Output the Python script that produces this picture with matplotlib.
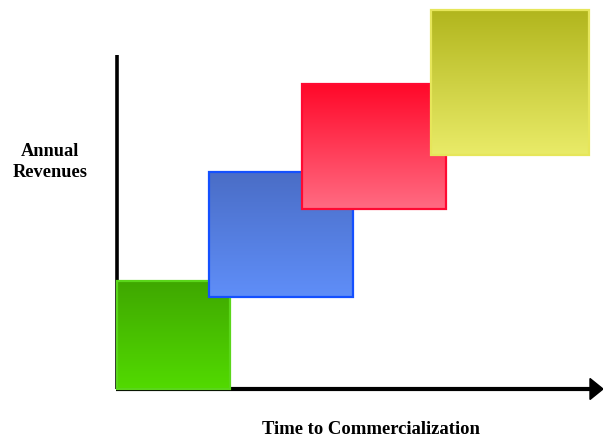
import numpy as np
import matplotlib.pyplot as plt
from matplotlib.patches import Rectangle, Polygon
from matplotlib.colors import to_rgb

# stage blocks: start time, width, revenue floor, height
stages = ['seed', 'early', 'growth', 'mature']
start = [0, 92, 185, 314]
width = [113, 144, 144, 158]
floor = [-1, 91, 179, 233]
height = [108, 125, 125, 145]
top_col = ['#3fa700', '#4a6dc6', '#ff0829', '#b2b61e']
bot_col = ['#52da00', '#5f8ef8', '#ff6b82', '#e9eb68']
edge_col = ['#5ad61a', '#1450ff', '#ff0a32', '#e6e65a']

fig = plt.figure(figsize=(6.03, 4.36), dpi=100)
ax = fig.add_axes([0, 0, 1, 1])
ax.axis('off')

# axes with arrow
ax.plot([0, 0], [-1, 333], color='black', lw=2.6, solid_capstyle='butt', zorder=1)
ax.plot([-1, 474], [-1, -1], color='black', lw=3, solid_capstyle='butt', zorder=1)
ax.add_patch(Polygon([[473, 9.5], [486, -1], [473, -11.5]], closed=True,
                     color='black', zorder=1))

for i in range(len(stages)):
    x0, x1 = start[i], start[i] + width[i]
    y0, y1 = floor[i], floor[i] + height[i]
    t = np.linspace(0, 1, 64)[:, None, None]
    grad = (1 - t) * np.array(to_rgb(bot_col[i])) + t * np.array(to_rgb(top_col[i]))
    ax.imshow(grad, extent=[x0, x1, y0, y1], origin='lower', aspect='auto',
              interpolation='bilinear', zorder=2 + i)
    ax.add_patch(Rectangle((x0, y0), width[i], height[i], fill=False,
                           edgecolor=edge_col[i], lw=1.6, zorder=2.5 + i))

ax.set_xlim(-117, 486)
ax.set_ylim(-48, 388)

ax.text(-67, 226, 'Annual\nRevenues', ha='center', va='center',
        family='Liberation Serif', weight='bold', fontsize=13.2, linespacing=1.3)
ax.text(254, -41, 'Time to Commercialization', ha='center', va='center',
        family='Liberation Serif', weight='bold', fontsize=13.4)

fig.savefig('out.png', dpi=100)
